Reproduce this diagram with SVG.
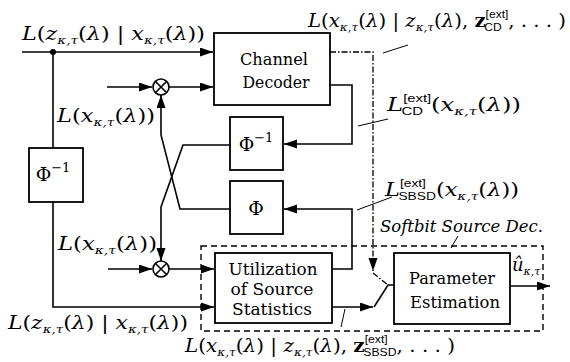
<svg xmlns="http://www.w3.org/2000/svg" width="570" height="362" viewBox="0 0 570 362">
  <defs>
    <marker id="arr" markerUnits="userSpaceOnUse" markerWidth="14" markerHeight="10" refX="13" refY="4.5" orient="auto">
      <path d="M0,0 L13,4.5 L0,9 z" fill="#000"/>
    </marker>
    <style>
      .ln { fill: none; stroke: #000; stroke-width: 1.6; }
      .thin { fill: none; stroke: #000; stroke-width: 1; }
      .dd { fill: none; stroke: #000; stroke-width: 1.3; stroke-dasharray: 6 2 1.5 2; }
      .dash { fill: none; stroke: #000; stroke-width: 1.4; stroke-dasharray: 6 4; }
      .box { fill: #fff; stroke: #000; stroke-width: 1.8; }
      text { font-family: 'DejaVu Serif', serif; fill: #000; }
      .bt { font-size: 17px; text-anchor: middle; }
      .ph { font-size: 19px; text-anchor: middle; }
      .m { font-size: 18px; font-style: italic; }
      .u { font-style: normal; }
      .sb { font-size: 11px; }
      .sf { font-family: 'Liberation Sans', 'DejaVu Sans', sans-serif; font-size: 11px; font-style: normal; }
      .bz { font-weight: bold; font-style: normal; }
      .it { font-size: 17px; font-style: italic; }
    </style>
  </defs>

  <!-- connectors -->
  <g id="connectors">
    <path class="ln" d="M22,52 H213" marker-end="url(#arr)"/>
    <circle cx="53" cy="52" r="3" fill="#000"/>
    <path class="ln" d="M53,52 V148"/>
    <path class="ln" d="M53,202 V307 H214" marker-end="url(#arr)"/>
    <path class="ln" d="M107,87 H152" marker-end="url(#arr)"/>
    <path class="ln" d="M169,87 H213" marker-end="url(#arr)"/>
    <path class="ln" d="M108,269 H152" marker-end="url(#arr)"/>
    <path class="ln" d="M169,269 H214" marker-end="url(#arr)"/>
    <!-- permutation cross-over -->
    <path class="ln" d="M230,209 H180 L161,135 V95" marker-end="url(#arr)"/>
    <path class="ln" d="M230,145 H183 L161,207 V261" marker-end="url(#arr)"/>
    <!-- extrinsic feedback -->
    <path class="ln" d="M330,85 H352 V144 H284" marker-end="url(#arr)"/>
    <path class="ln" d="M332,269 H352 V209 H284" marker-end="url(#arr)"/>
    <!-- switch into parameter estimation -->
    <path class="ln" d="M332,307 H373" marker-end="url(#arr)"/>
    <path class="ln" d="M374,307 L388,285 H394"/>
    <path class="dd" d="M330,52 H373 V271" marker-end="url(#arr)"/>
    <path class="dd" d="M373,273 L388,285"/>
    <path class="ln" d="M510,286 H550" marker-end="url(#arr)"/>
    <!-- label leaders -->
    <path class="thin" d="M383,53 L408,45"/>
    <path class="thin" d="M358,126 L388,119"/>
    <path class="thin" d="M357,210 L392,197"/>
    <path class="thin" d="M451,248 L458,236"/>
    <path class="thin" d="M345,309 L341,327"/>
  </g>

  <!-- softbit source decoder frame -->
  <rect id="sbsd-frame" class="dash" x="201" y="246" width="342" height="85"/>

  <g id="channel-decoder">
    <rect class="box" x="214" y="33" width="116" height="72"/>
    <text class="bt" x="274" y="65" textLength="68" lengthAdjust="spacingAndGlyphs">Channel</text>
    <text class="bt" x="276" y="88" textLength="67" lengthAdjust="spacingAndGlyphs">Decoder</text>
  </g>

  <g id="deinterleaver-left">
    <rect class="box" x="29" y="148" width="54" height="54"/>
    <text class="ph" x="53" y="181">Φ<tspan font-size="13" dy="-9">−1</tspan></text>
  </g>

  <g id="deinterleaver">
    <rect class="box" x="230" y="117" width="53" height="53"/>
    <text class="ph" x="256" y="151">Φ<tspan font-size="13" dy="-9">−1</tspan></text>
  </g>

  <g id="interleaver">
    <rect class="box" x="230" y="181" width="53" height="53"/>
    <text class="ph" x="256" y="215">Φ</text>
  </g>

  <g id="mult-top">
    <circle class="ln" cx="161" cy="87" r="8" fill="#fff"/>
    <path class="ln" d="M155.5,81.5 L166.5,92.5 M166.5,81.5 L155.5,92.5"/>
  </g>

  <g id="mult-bottom">
    <circle class="ln" cx="161" cy="269" r="8" fill="#fff"/>
    <path class="ln" d="M155.5,263.5 L166.5,274.5 M166.5,263.5 L155.5,274.5"/>
  </g>

  <g id="source-statistics">
    <rect class="box" x="215" y="253" width="117" height="70"/>
    <text class="bt" x="273" y="275" textLength="89" lengthAdjust="spacingAndGlyphs">Utilization</text>
    <text class="bt" x="272" y="295" textLength="83" lengthAdjust="spacingAndGlyphs">of Source</text>
    <text class="bt" x="272" y="315" textLength="80" lengthAdjust="spacingAndGlyphs">Statistics</text>
  </g>

  <g id="parameter-estimation">
    <rect class="box" x="394" y="253" width="116" height="71"/>
    <text class="bt" x="452" y="284" textLength="86" lengthAdjust="spacingAndGlyphs">Parameter</text>
    <text class="bt" x="455" y="308" textLength="90" lengthAdjust="spacingAndGlyphs">Estimation</text>
  </g>

  <!-- signal labels -->
  <g id="labels">
    <text class="m" x="22" y="40" textLength="183" lengthAdjust="spacingAndGlyphs">L<tspan class="u">(</tspan>z<tspan class="sb" dy="4">κ,τ</tspan><tspan class="u" dy="-4">(</tspan>λ<tspan class="u">) | </tspan>x<tspan class="sb" dy="4">κ,τ</tspan><tspan class="u" dy="-4">(</tspan>λ<tspan class="u">))</tspan></text>
    <text class="m" x="8" y="329" textLength="180" lengthAdjust="spacingAndGlyphs">L<tspan class="u">(</tspan>z<tspan class="sb" dy="4">κ,τ</tspan><tspan class="u" dy="-4">(</tspan>λ<tspan class="u">) | </tspan>x<tspan class="sb" dy="4">κ,τ</tspan><tspan class="u" dy="-4">(</tspan>λ<tspan class="u">))</tspan></text>
    <text class="m" x="57" y="122" textLength="98" lengthAdjust="spacingAndGlyphs">L<tspan class="u">(</tspan>x<tspan class="sb" dy="4">κ,τ</tspan><tspan class="u" dy="-4">(</tspan>λ<tspan class="u">))</tspan></text>
    <text class="m" x="58" y="250" textLength="99" lengthAdjust="spacingAndGlyphs">L<tspan class="u">(</tspan>x<tspan class="sb" dy="4">κ,τ</tspan><tspan class="u" dy="-4">(</tspan>λ<tspan class="u">))</tspan></text>
    <text class="m" x="308" y="27" textLength="258" lengthAdjust="spacingAndGlyphs">L<tspan class="u">(</tspan>x<tspan class="sb" dy="4">κ,τ</tspan><tspan class="u" dy="-4">(</tspan>λ<tspan class="u">) | </tspan>z<tspan class="sb" dy="4">κ,τ</tspan><tspan class="u" dy="-4">(</tspan>λ<tspan class="u">), </tspan><tspan class="bz">z</tspan><tspan class="sf" dy="-9">[ext]</tspan><tspan class="sf" dx="-22" dy="13">CD</tspan><tspan class="u" dx="6" dy="-4">, . . . )</tspan></text>
    <text class="m" x="387" y="111" textLength="134" lengthAdjust="spacingAndGlyphs">L<tspan class="sf" dy="-9">[ext]</tspan><tspan class="sf" dx="-22" dy="13">CD</tspan><tspan class="u" dx="6" dy="-4">(</tspan>x<tspan class="sb" dy="4">κ,τ</tspan><tspan class="u" dy="-4">(</tspan>λ<tspan class="u">))</tspan></text>
    <text class="m" x="385" y="196" textLength="134" lengthAdjust="spacingAndGlyphs">L<tspan class="sf" dy="-9">[ext]</tspan><tspan class="sf" dx="-22" dy="13">SBSD</tspan><tspan class="u" dy="-4">(</tspan>x<tspan class="sb" dy="4">κ,τ</tspan><tspan class="u" dy="-4">(</tspan>λ<tspan class="u">))</tspan></text>
    <text class="it" x="380" y="232" textLength="163" lengthAdjust="spacingAndGlyphs">Softbit Source Dec.</text>
    <text class="m" x="185" y="352" textLength="270" lengthAdjust="spacingAndGlyphs">L<tspan class="u">(</tspan>x<tspan class="sb" dy="4">κ,τ</tspan><tspan class="u" dy="-4">(</tspan>λ<tspan class="u">) | </tspan>z<tspan class="sb" dy="4">κ,τ</tspan><tspan class="u" dy="-4">(</tspan>λ<tspan class="u">), </tspan><tspan class="bz">z</tspan><tspan class="sf" dy="-9">[ext]</tspan><tspan class="sf" dx="-22" dy="13">SBSD</tspan><tspan class="u" dy="-4">, . . . )</tspan></text>
    <text class="m" x="512" y="271">û<tspan class="sb" dy="4">κ,τ</tspan></text>
  </g>
</svg>
